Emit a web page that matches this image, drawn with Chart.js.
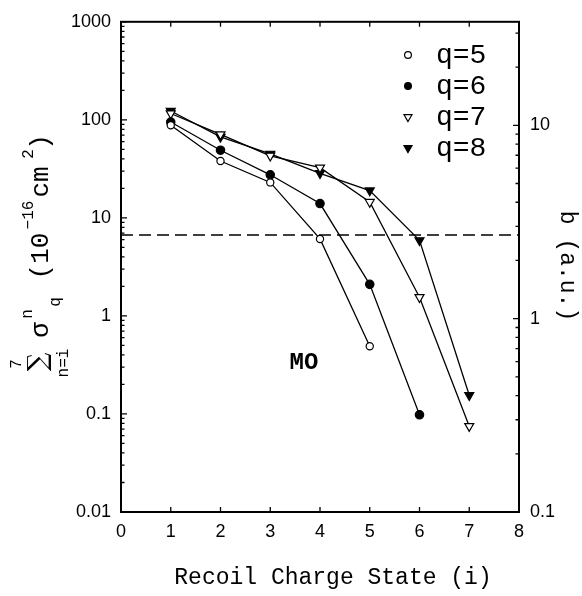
<!DOCTYPE html>
<html>
<head>
<meta charset="utf-8">
<script src="https://cdn.jsdelivr.net/npm/chart.js@4.4.0/dist/chart.umd.min.js"></script>
<style>
  body { margin: 0; background: #fff; }
  canvas { display: block; }
</style>
</head>
<body>
<canvas id="myChart" width="582" height="596"></canvas>
<script>
var chargeStates = [1, 2, 3, 4, 5, 6, 7];
var q5 = [88, 38, 23, 6.1, 0.49, null, null];
var q6 = [95, 49, 27.5, 14, 2.1, 0.098, null];
var q7 = [116, 71, 43, 32.5, 14.5, 1.55, 0.075];
var q8 = [123, 67, 45, 28.5, 19, 5.9, 0.155];
var seriesNames = ["q=5", "q=6", "q=7", "q=8"];
var dashLevel = 6.7;
var leftTickLabels = ["0.01", "0.1", "1", "10", "100", "1000"];
var rightTickLabels = ["0.1", "1", "10"];

var monoFont = "'Liberation Mono', monospace";
Chart.defaults.font.family = "'Liberation Sans', Arial, sans-serif";
Chart.defaults.color = '#000';

function points(vals) {
  var out = [];
  for (var i = 0; i < chargeStates.length; i++) {
    if (vals[i] != null) out.push({ x: chargeStates[i], y: vals[i] });
  }
  return out;
}

function decadeLabel(list, minExp) {
  return function (v) {
    var l = Math.log10(v);
    var r = Math.round(l);
    if (Math.abs(l - r) > 1e-6) return '';
    return list[r - minExp] || '';
  };
}

var styles = [
  { pointStyle: 'circle', fill: '#fff', radius: 3.6, rot: 0 },
  { pointStyle: 'circle', fill: '#000', radius: 4.2, rot: 0 },
  { pointStyle: 'triangle', fill: '#fff', radius: 5.2, rot: 180 },
  { pointStyle: 'triangle', fill: '#000', radius: 5.2, rot: 180 }
];
var seriesData = [q5, q6, q7, q8];

var datasets = [{
  label: 'b',
  data: [{ x: 0, y: dashLevel }, { x: 8, y: dashLevel }],
  borderColor: '#000',
  borderWidth: 1.4,
  borderDash: [12, 6],
  pointRadius: 0
}];
seriesData.forEach(function (vals, i) {
  datasets.push({
    label: seriesNames[i],
    data: points(vals),
    borderColor: '#000',
    borderWidth: 1.3,
    pointStyle: styles[i].pointStyle,
    pointRotation: styles[i].rot,
    pointRadius: styles[i].radius,
    pointBackgroundColor: styles[i].fill,
    pointBorderColor: '#000',
    pointBorderWidth: 1.2
  });
});

function rotText(ctx, txt, x, y, font, ang) {
  ctx.save();
  ctx.translate(x, y);
  ctx.rotate(ang);
  ctx.font = font;
  ctx.textAlign = 'center';
  ctx.textBaseline = 'alphabetic';
  ctx.fillText(txt, 0, 0);
  ctx.restore();
}

function logTicks(ctx, scale, edge, dir, minExp, maxExp) {
  for (var e = minExp; e <= maxExp; e++) {
    for (var m = 1; m <= 9; m++) {
      var v = m * Math.pow(10, e);
      if (v < scale.min * 0.999 || v > scale.max * 1.001) continue;
      var py = scale.getPixelForValue(v);
      var len = m === 1 ? 6 : 3.5;
      ctx.moveTo(edge, py);
      ctx.lineTo(edge + dir * len, py);
    }
  }
}

var frame = {
  id: 'frame',
  afterDraw: function (chart) {
    var ctx = chart.ctx, a = chart.chartArea;
    var sx = chart.scales.x, sy = chart.scales.y, sy2 = chart.scales.y2;
    ctx.save();
    ctx.strokeStyle = '#000';
    ctx.fillStyle = '#000';
    ctx.lineWidth = 2;
    ctx.strokeRect(a.left, a.top, a.right - a.left, a.bottom - a.top);

    ctx.lineWidth = 1.3;
    ctx.beginPath();
    for (var i = 1; i < 8; i++) {
      var px = sx.getPixelForValue(i);
      ctx.moveTo(px, a.bottom); ctx.lineTo(px, a.bottom - 5);
      ctx.moveTo(px, a.top); ctx.lineTo(px, a.top + 5);
    }
    logTicks(ctx, sy, a.left, 1, -2, 3);
    logTicks(ctx, sy2, a.right, -1, -1, 1);
    ctx.stroke();

    // legend
    var lx = 408, ly = [55, 86, 117, 148];
    for (var k = 0; k < 4; k++) {
      var st = styles[k];
      ctx.beginPath();
      if (st.pointStyle === 'circle') {
        ctx.arc(lx, ly[k], 3.4, 0, Math.PI * 2);
      } else {
        var r = 4.6;
        ctx.moveTo(lx, ly[k] + r);
        ctx.lineTo(lx - r * 0.866, ly[k] - r / 2);
        ctx.lineTo(lx + r * 0.866, ly[k] - r / 2);
        ctx.closePath();
      }
      ctx.fillStyle = st.fill;
      ctx.fill();
      ctx.lineWidth = 1.2;
      ctx.stroke();
      ctx.fillStyle = '#000';
      ctx.font = '28px ' + monoFont;
      ctx.textAlign = 'left';
      ctx.textBaseline = 'middle';
      ctx.fillText(seriesNames[k], 436, ly[k] + 1);
    }

    ctx.fillStyle = '#000';
    ctx.font = 'bold 24px ' + monoFont;
    ctx.textAlign = 'center';
    ctx.textBaseline = 'middle';
    ctx.fillText('MO', 304, 363);

    ctx.font = '23px ' + monoFont;
    ctx.fillText('Recoil Charge State (i)', 333, 578);

    rotText(ctx, 'b (a.u.)', 561, 266, '23px ' + monoFont, Math.PI / 2);

    // left axis title, rotated
    var up = -Math.PI / 2;
    var big = '26px ' + monoFont, small = '16px ' + monoFont;
    rotText(ctx, '\u2211', 46, 362, '26px DejaVu Serif', up);
    rotText(ctx, '7', 21, 364, small, up);
    rotText(ctx, 'n=i', 68, 363, small, up);
    rotText(ctx, '\u03c3', 48, 330, big, up);
    rotText(ctx, 'n', 32, 314, small, up);
    rotText(ctx, 'q', 60, 302, small, up);
    rotText(ctx, '(10', 48, 256, big, up);
    rotText(ctx, '\u221216', 33, 215, small, up);
    rotText(ctx, 'cm', 48, 182, big, up);
    rotText(ctx, '2', 33, 154, small, up);
    rotText(ctx, ')', 48, 142, big, up);
    ctx.restore();
  }
};

new Chart('myChart', {
  type: 'line',
  data: { datasets: datasets },
  options: {
    responsive: false,
    animation: false,
    devicePixelRatio: 1,
    layout: { padding: { top: 19, left: 0, right: 0, bottom: 0 } },
    plugins: { legend: { display: false }, tooltip: { enabled: false } },
    scales: {
      x: {
        type: 'linear',
        min: 0, max: 8,
        grid: { display: false, drawTicks: false },
        border: { display: false },
        ticks: { stepSize: 1, padding: 9, font: { size: 18 } },
        afterFit: function (s) { s.height = 84; }
      },
      y: {
        type: 'logarithmic',
        position: 'left',
        min: 0.01, max: 1000,
        grid: { display: false, drawTicks: false },
        border: { display: false },
        ticks: { autoSkip: false, padding: 10, font: { size: 18 }, callback: decadeLabel(leftTickLabels, -2) },
        afterFit: function (s) { s.width = 121; }
      },
      y2: {
        type: 'logarithmic',
        position: 'right',
        min: 0.1, max: 34.3,
        grid: { display: false, drawTicks: false },
        border: { display: false },
        ticks: { autoSkip: false, padding: 11, font: { size: 18 }, callback: decadeLabel(rightTickLabels, -1) },
        afterFit: function (s) { s.width = 63; }
      }
    }
  },
  plugins: [frame]
});
</script>
</body>
</html>
